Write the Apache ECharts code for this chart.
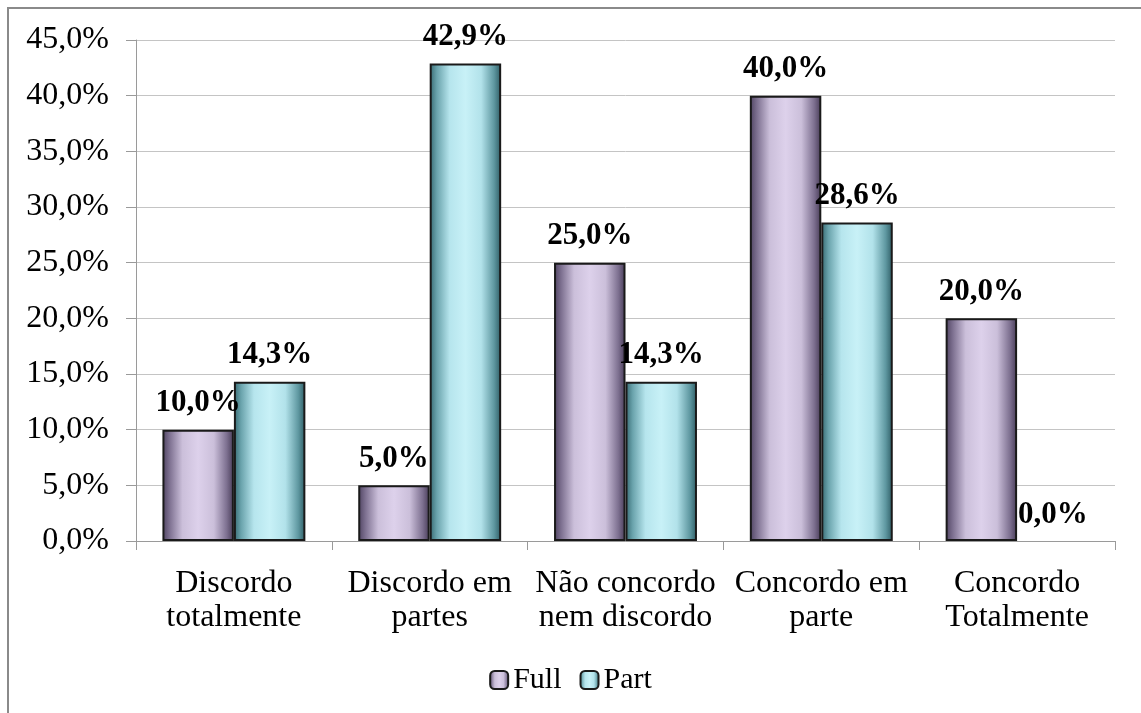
<!DOCTYPE html>
<html>
<head>
<meta charset="utf-8">
<script src="https://cdn.jsdelivr.net/npm/echarts@6/dist/echarts.min.js"></script>
<style>html,body{margin:0;padding:0;background:#fff}#c{width:1141px;height:713px}</style>
</head>
<body>
<div id="c"></div>
<script>
const categories = ['Discordo\ntotalmente', 'Discordo em\npartes', 'Não concordo\nnem discordo', 'Concordo em\nparte', 'Concordo\nTotalmente'];
const fullValues = [10.0, 5.0, 25.0, 40.0, 20.0];
const partValues = [14.3, 42.9, 14.3, 28.6, 0.0];
const seriesNames = ['Full', 'Part'];

const FONT = '"Liberation Serif", "Times New Roman", serif';
const fmt = v => Number(v).toFixed(1).replace('.', ',') + '%';

function grad(stops) {
  return new echarts.graphic.LinearGradient(0, 0, 1, 0, stops.map(c => ({offset: c[0], color: c[1]})));
}
const fullGrad = grad([[0,'#4e4260'],[0.1,'#7d7090'],[0.28,'#cbbfda'],[0.5,'#ddd1eb'],[0.72,'#cbbfda'],[0.9,'#7d7090'],[1,'#463a56']]);
const partGrad = grad([[0,'#356870'],[0.1,'#6aa3ac'],[0.28,'#b6e5ed'],[0.5,'#c8f1f7'],[0.72,'#b2e2ea'],[0.9,'#5f98a1'],[1,'#2d5b63']]);

const labelCfg = {
  show: true, position: 'top', distance: 11,
  formatter: p => fmt(p.value),
  fontFamily: FONT, fontSize: 31, fontWeight: 'bold', color: '#000'
};
const toItems = arr => arr.map(v => v === 0 ? {value: v, itemStyle: {borderWidth: 0}} : v);

const chart = echarts.init(document.getElementById('c'), null, {renderer: 'canvas'});
chart.setOption({
  animation: false,
  backgroundColor: '#fff',
  graphic: [{
    type: 'rect', shape: {x: 8, y: 8, width: 1300, height: 900},
    style: {fill: 'none', stroke: '#8a8a8a', lineWidth: 2}, z: 100
  }],
  grid: {left: 136, right: 26, top: 40, bottom: 172},
  legend: {
    bottom: 13, left: 'center',
    itemWidth: 18, itemHeight: 18, itemGap: 18,
    textStyle: {fontFamily: FONT, fontSize: 30, color: '#000'},
    data: seriesNames
  },
  xAxis: {
    type: 'category', data: categories,
    axisLine: {lineStyle: {color: '#9a9a9a', width: 1}},
    axisTick: {show: true, length: 9, lineStyle: {color: '#9a9a9a'}},
    axisLabel: {fontFamily: FONT, fontSize: 32, color: '#000', lineHeight: 34, margin: 26, interval: 0}
  },
  yAxis: {
    type: 'value', min: 0, max: 45, interval: 5,
    axisLine: {show: true, lineStyle: {color: '#9a9a9a', width: 1}},
    axisTick: {show: true, length: 10, lineStyle: {color: '#9a9a9a'}},
    splitLine: {lineStyle: {color: '#c4c4c4', width: 1}},
    axisLabel: {formatter: v => fmt(v), fontFamily: FONT, fontSize: 32, color: '#000', margin: 27}
  },
  series: [
    {name: seriesNames[0], type: 'bar', data: toItems(fullValues), barGap: '0%', barCategoryGap: '27%',
     itemStyle: {color: fullGrad, borderColor: '#1a1a1a', borderWidth: 2}, label: labelCfg},
    {name: seriesNames[1], type: 'bar', data: toItems(partValues),
     itemStyle: {color: partGrad, borderColor: '#1a1a1a', borderWidth: 2}, label: labelCfg}
  ]
});
</script>
</body>
</html>
